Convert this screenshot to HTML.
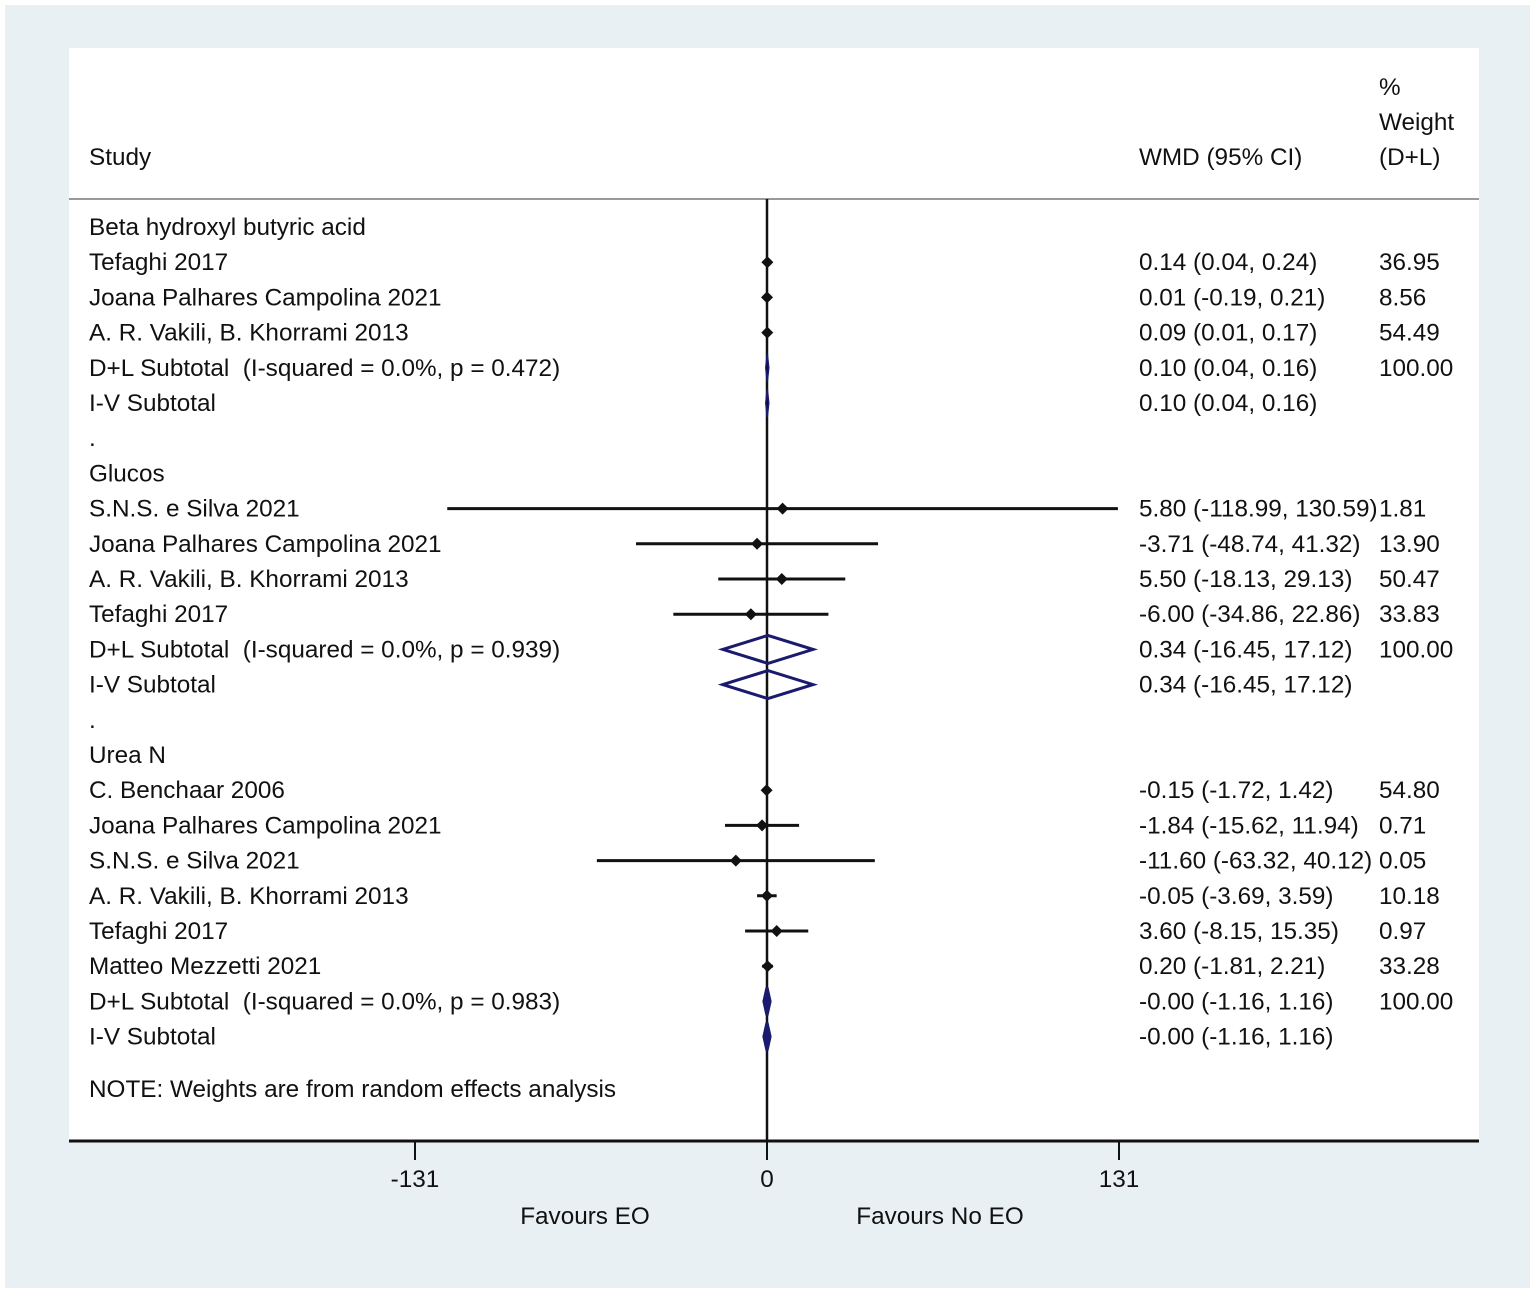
<!DOCTYPE html>
<html><head><meta charset="utf-8"><style>
body{margin:0;background:#fff;}
svg text{font-family:"Liberation Sans",Arial,sans-serif;font-size:24.3px;fill:#111;white-space:pre;}
</style></head><body>
<svg id="c" width="1535" height="1294" xmlns="http://www.w3.org/2000/svg">
<rect x="0" y="0" width="1535" height="1294" fill="#fff"/>
<rect x="5" y="5" width="1525" height="1283" fill="#e8f0f3"/>
<rect x="69" y="48" width="1410" height="1093" fill="#fff"/>
<text x="89" y="165">Study</text>
<text x="1139" y="165">WMD (95% CI)</text>
<text x="1379" y="95">%</text>
<text x="1379" y="130">Weight</text>
<text x="1379" y="165">(D+L)</text>
<line x1="69" y1="199" x2="1479" y2="199" stroke="#999" stroke-width="2"/>
<g id="marks"></g>
<line x1="69" y1="1141" x2="1479" y2="1141" stroke="#111" stroke-width="3"/>
<text x="585" y="1224" text-anchor="middle">Favours EO</text>
<text x="940" y="1224" text-anchor="middle">Favours No EO</text>
</svg>
<script>
const labels=["Beta hydroxyl butyric acid","Tefaghi 2017","Joana Palhares Campolina 2021","A. R. Vakili, B. Khorrami 2013","D+L Subtotal  (I-squared = 0.0%, p = 0.472)","I-V Subtotal",".","Glucos","S.N.S. e Silva 2021","Joana Palhares Campolina 2021","A. R. Vakili, B. Khorrami 2013","Tefaghi 2017","D+L Subtotal  (I-squared = 0.0%, p = 0.939)","I-V Subtotal",".","Urea N","C. Benchaar 2006","Joana Palhares Campolina 2021","S.N.S. e Silva 2021","A. R. Vakili, B. Khorrami 2013","Tefaghi 2017","Matteo Mezzetti 2021","D+L Subtotal  (I-squared = 0.0%, p = 0.983)","I-V Subtotal"];
const types=["h","s","s","s","d","d","b","h","s","s","s","s","d","d","b","h","s","s","s","s","s","s","f","f"];
const est=[null,0.14,0.01,0.09,0.10,0.10,null,null,5.80,-3.71,5.50,-6.00,0.34,0.34,null,null,-0.15,-1.84,-11.60,-0.05,3.60,0.20,-0.00,-0.00];
const lo=[null,0.04,-0.19,0.01,0.04,0.04,null,null,-118.99,-48.74,-18.13,-34.86,-16.45,-16.45,null,null,-1.72,-15.62,-63.32,-3.69,-8.15,-1.81,-1.16,-1.16];
const hi=[null,0.24,0.21,0.17,0.16,0.16,null,null,130.59,41.32,29.13,22.86,17.12,17.12,null,null,1.42,11.94,40.12,3.59,15.35,2.21,1.16,1.16];
const weights=["","36.95","8.56","54.49","100.00","","","","1.81","13.90","50.47","33.83","100.00","","","","54.80","0.71","0.05","10.18","0.97","33.28","100.00",""];
const ticks=[-131,0,131];
const NS="http://www.w3.org/2000/svg";
const g=document.getElementById('marks');
const X=v=>767+v*(352/131);
const Y=i=>227+35.2*i;
function mk(t,a){const e=document.createElementNS(NS,t);for(const k in a)e.setAttribute(k,a[k]);g.appendChild(e);return e;}
function fmt(v){return (v<0||Object.is(v,-0)?"-":"")+Math.abs(v).toFixed(2);}
let rl=mk('line',{x1:X(0),y1:199,x2:X(0),y2:1141,stroke:'#111','stroke-width':2.5});


labels.forEach((l,i)=>{
  const y=Y(i);
  const t=mk('text',{x:89,y:y+8});t.textContent=l;
  
  
  if(est[i]!==null){
    let ci=fmt(est[i])+" ("+fmt(lo[i])+", "+fmt(hi[i])+")";
    if(i===22||i===23)ci="-0.00 (-1.16, 1.16)";
    const w=mk('text',{x:1139,y:y+8});w.textContent=ci;
    
    
  }
  if(weights[i]){const w=mk('text',{x:1379,y:y+8});w.textContent=weights[i];
    
    }
  if(types[i]==="s"){
    const ln=mk('line',{x1:X(lo[i]),y1:y,x2:X(hi[i]),y2:y,stroke:'#111','stroke-width':3});
    
    
    const cx=X(est[i]);
    const p=mk('polygon',{points:`${cx},${y-6} ${cx+6},${y} ${cx},${y+6} ${cx-6},${y}`,fill:'#111'});
    
    
  } else if(types[i]==="d"||types[i]==="f"){
    const a=X(lo[i]),b=X(hi[i]),c=X(est[i]);
    const wide=(b-a)>=3;
    const aa=wide?a:c-1.5, bb=wide?b:c+1.5;
    const p=mk('polygon',{points:`${aa},${y} ${c},${y-14} ${bb},${y} ${c},${y+14}`,
      fill:types[i]==="f"?'#1a1a6e':'none',stroke:'#1a1a6e','stroke-width':wide?3:1.5});
    
    
  }
});
const note=mk('text',{x:89,y:1097});note.textContent="NOTE: Weights are from random effects analysis";


ticks.forEach(v=>{
  const tl=mk('line',{x1:X(v),y1:1141,x2:X(v),y2:1160,stroke:'#111','stroke-width':2});
  
  
  const t=mk('text',{x:X(v),y:1187,'text-anchor':'middle'});t.textContent=v;
  
  
});
</script>
</body></html>
